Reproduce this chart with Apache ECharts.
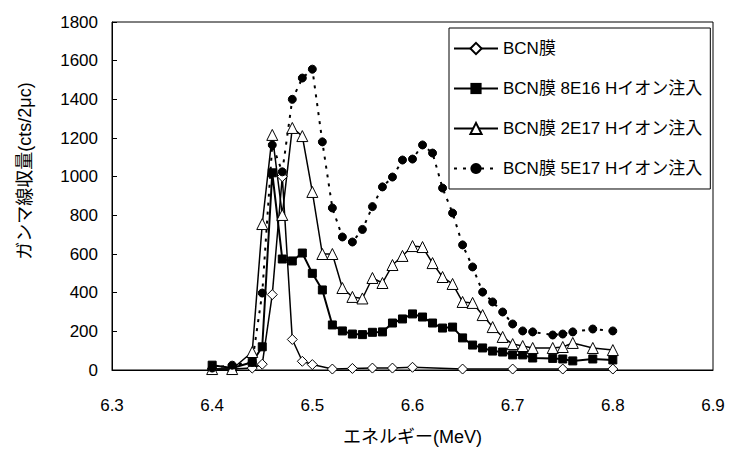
<!DOCTYPE html>
<html>
<head>
    <meta charset="UTF-8">
    <title>ECharts</title>
    <script type="text/javascript" src="https://cdn.jsdelivr.net/npm/echarts@6/dist/echarts.min.js"></script>
    <style>
        html, body { margin: 0; padding: 0; background: #fff; }
    </style>
</head>
<body>
<div id="main" style="width: 731px;height:452px;"></div>
<script type="text/javascript">
    // 系列名
    var seriesNames = ['BCN膜', 'BCN膜 8E16 Hイオン注入', 'BCN膜 2E17 Hイオン注入', 'BCN膜 5E17 Hイオン注入'];

    // エネルギー (MeV)
    var energyBcn = [6.40, 6.42, 6.44, 6.45, 6.46, 6.47, 6.48, 6.49, 6.50, 6.52, 6.54, 6.56, 6.58, 6.60, 6.65, 6.70, 6.75, 6.80];
    var energyIon = [6.40, 6.42, 6.44, 6.45, 6.46, 6.47, 6.48, 6.49, 6.50, 6.51, 6.52, 6.53, 6.54, 6.55, 6.56, 6.57, 6.58, 6.59,
        6.60, 6.61, 6.62, 6.63, 6.64, 6.65, 6.66, 6.67, 6.68, 6.69, 6.70, 6.71, 6.72, 6.74, 6.75, 6.76, 6.78, 6.80];

    // ガンマ線収量 (cts/2μc)
    var yieldBcn = [5, 5, 10, 30, 390, 1000, 158, 45, 28, 5, 8, 10, 10, 14, 5, 5, 5, 5];
    var yield8E16 = [25, 10, 40, 120, 1020, 574, 564, 605, 500, 414, 233, 202, 186, 183, 195, 197, 243, 264,
        290, 274, 243, 217, 222, 166, 129, 114, 98, 93, 78, 78, 62, 60, 57, 47, 57, 52];
    var yield2E17 = [5, 5, 93, 755, 1216, 802, 1252, 1210, 921, 600, 600, 424, 378, 370, 476, 450, 543, 590,
        641, 636, 553, 481, 445, 352, 347, 284, 222, 171, 134, 124, 114, 114, 119, 140, 114, 103];
    var yield5E17 = [10, 25, 40, 398, 1164, 1025, 1400, 1510, 1556, 1180, 838, 688, 662, 727, 845, 947, 998, 1086,
        1091, 1164, 1122, 941, 812, 647, 533, 403, 352, 300, 238, 202, 197, 181, 186, 197, 212, 202];

    function pairs(xs, ys) {
        var out = [];
        for (var i = 0; i < xs.length; i++) {
            out.push([xs[i], ys[i]]);
        }
        return out;
    }

    var font = "'Liberation Sans', 'Noto Sans CJK JP', sans-serif";
    var myChart = echarts.init(document.getElementById('main'), null, {renderer: 'svg'});

    var option = {
        animation: false,
        backgroundColor: '#fff',
        textStyle: {fontFamily: font, color: '#000'},
        grid: {
            left: 112, right: 18, top: 22, bottom: 82,
            show: true, borderColor: '#000', borderWidth: 1
        },
        legend: {
            orient: 'vertical',
            left: 449, top: 28,
            padding: [12, 8, 12, 4],
            itemWidth: 44, itemHeight: 14, itemGap: 23,
            backgroundColor: '#fff',
            borderColor: '#000', borderWidth: 1,
            textStyle: {fontFamily: font, fontSize: 17, color: '#000'},
            data: seriesNames
        },
        xAxis: {
            type: 'value',
            min: 6.3, max: 6.9, interval: 0.1,
            name: 'エネルギー(MeV)',
            nameLocation: 'middle',
            nameGap: 58,
            nameTextStyle: {fontFamily: font, fontSize: 18, color: '#000'},
            axisLine: {lineStyle: {color: '#000', width: 1}},
            axisTick: {show: false},
            splitLine: {show: false},
            axisLabel: {
                margin: 27, fontSize: 17, color: '#000', fontFamily: font,
                formatter: function (v) { return v.toFixed(1); }
            }
        },
        yAxis: {
            type: 'value',
            min: 0, max: 1800, interval: 200,
            name: 'ガンマ線収量(cts/2μc)',
            nameLocation: 'middle',
            nameGap: 78,
            nameTextStyle: {fontFamily: font, fontSize: 18, color: '#000', padding: [0, 0, 0, 50]},
            axisLine: {show: true, lineStyle: {color: '#000', width: 1}},
            axisTick: {show: true, inside: true, length: 5, lineStyle: {color: '#000'}},
            splitLine: {show: false},
            axisLabel: {
                margin: 14, fontSize: 17, color: '#000', fontFamily: font,
                formatter: function (v) { return String(v); }
            }
        },
        series: [
            {
                name: seriesNames[0], type: 'line',
                data: pairs(energyBcn, yieldBcn),
                symbol: 'diamond', symbolSize: 10,
                lineStyle: {color: '#000', width: 1.5},
                itemStyle: {color: '#fff', borderColor: '#000', borderWidth: 1}
            },
            {
                name: seriesNames[1], type: 'line',
                data: pairs(energyIon, yield8E16),
                symbol: 'rect', symbolSize: 8,
                lineStyle: {color: '#000', width: 2},
                itemStyle: {color: '#000', borderColor: '#000'}
            },
            {
                name: seriesNames[2], type: 'line',
                data: pairs(energyIon, yield2E17),
                symbol: 'triangle', symbolSize: 11,
                lineStyle: {color: '#000', width: 1.5},
                itemStyle: {color: '#fff', borderColor: '#000', borderWidth: 1}
            },
            {
                name: seriesNames[3], type: 'line',
                data: pairs(energyIon, yield5E17),
                symbol: 'circle', symbolSize: 8,
                lineStyle: {color: '#000', width: 2, type: [3, 6]},
                itemStyle: {color: '#000', borderColor: '#000'}
            }
        ]
    };

    myChart.setOption(option);
</script>
</body>
</html>
